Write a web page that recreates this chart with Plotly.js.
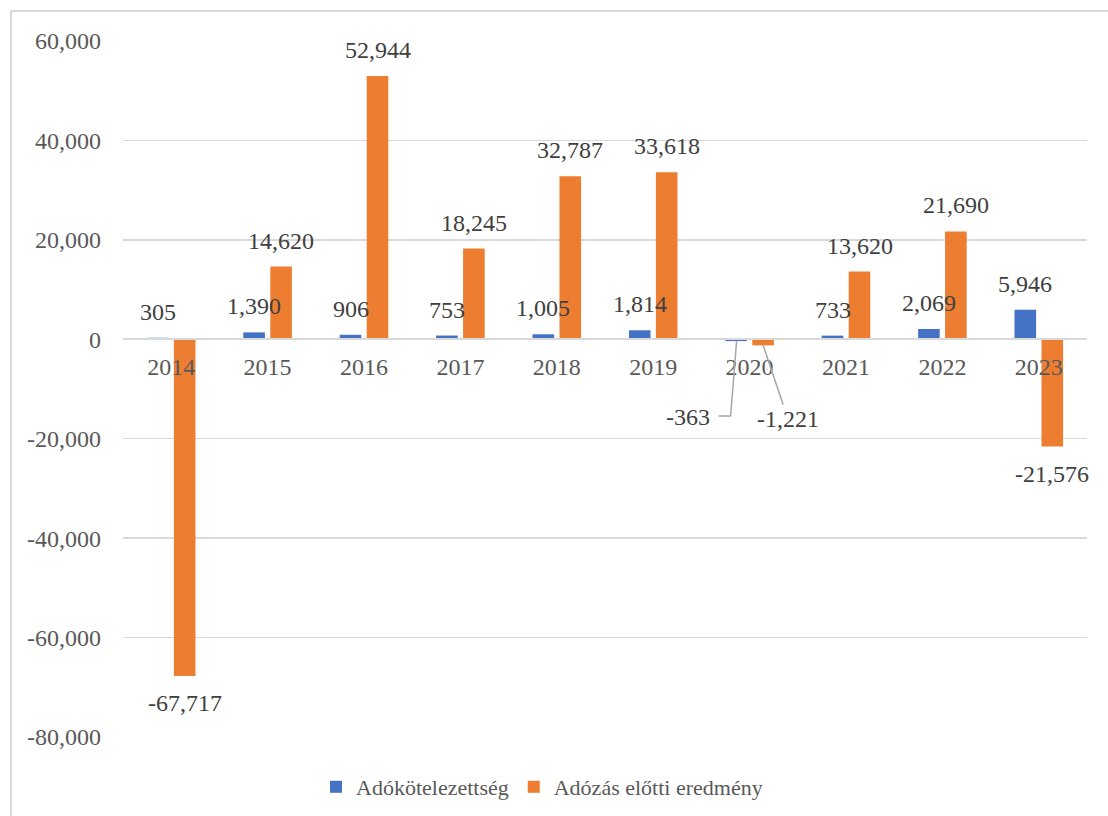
<!DOCTYPE html>
<html>
<head>
<meta charset="utf-8">
<script src="https://cdn.plot.ly/plotly-3.0.1.min.js"></script>
<style>
  html, body { margin: 0; padding: 0; background: #fff; }
  #wrap { position: relative; width: 1108px; height: 816px; overflow: hidden; }
  #frame { position: absolute; left: 10px; top: 10px; width: 1120px; height: 830px; border: 2px solid #d9d9d9; box-sizing: border-box; pointer-events: none; }
  #chart { position: absolute; left: 0; top: 0; width: 1108px; height: 816px; }
</style>
</head>
<body>
<div id="wrap">
  <div id="chart"></div>
  <div id="frame"></div>
</div>
<script>
const years = ['2014','2015','2016','2017','2018','2019','2020','2021','2022','2023'];
const adokotelezettseg = [305, 1390, 906, 753, 1005, 1814, -363, 733, 2069, 5946];
const adozasElottiEredmeny = [-67717, 14620, 52944, 18245, 32787, 33618, -1221, 13620, 21690, -21576];
const seriesNames = ['Adókötelezettség', 'Adózás előtti eredmény'];
const tickVals = [-80000, -60000, -40000, -20000, 0, 20000, 40000, 60000];

const BLUE = '#4472C4', ORANGE = '#ED7D31';
const SERIF = '"Liberation Serif", "Times New Roman", serif';
const fmt = v => (v < 0 ? '-' : '') + Math.abs(v).toLocaleString('en-US');

const traces = [
  { type: 'bar', name: seriesNames[0], x: years, y: adokotelezettseg, marker: { color: BLUE }, hoverinfo: 'none' },
  { type: 'bar', name: seriesNames[1], x: years, y: adozasElottiEredmeny, marker: { color: ORANGE }, hoverinfo: 'none' }
];

const annotations = [];
const SHIFT = 13.5;
[adokotelezettseg, adozasElottiEredmeny].forEach((vals, si) => {
  const xs = si === 0 ? -SHIFT : SHIFT;
  vals.forEach((v, i) => {
    if (years[i] === '2020') return;
    annotations.push({
      x: i, y: v, xref: 'x', yref: 'y', text: fmt(v), showarrow: false,
      xshift: xs, yshift: v >= 0 ? 26 : -27, yanchor: 'middle', xanchor: 'center',
      font: { family: SERIF, size: 24, color: '#404040' }
    });
  });
});
// 2020 labels with leader lines
const i20 = years.indexOf('2020');
annotations.push({
  x: i20, y: adokotelezettseg[i20], xref: 'x', yref: 'y', text: fmt(adokotelezettseg[i20]),
  xshift: -62, yshift: -76, showarrow: false, yanchor: 'middle', xanchor: 'center',
  font: { family: SERIF, size: 24, color: '#404040' }
});
annotations.push({
  x: i20, y: adozasElottiEredmeny[i20], xref: 'x', yref: 'y', text: fmt(adozasElottiEredmeny[i20]),
  xshift: SHIFT, showarrow: true, arrowhead: 0, arrowwidth: 1.5, arrowcolor: '#a6a6a6',
  ax: 25, ay: 74, standoff: 0, font: { family: SERIF, size: 24, color: '#404040' }
});
const shapes = [{
  type: 'path', xref: 'x', yref: 'y', xsizemode: 'pixel', ysizemode: 'pixel',
  xanchor: i20, yanchor: adokotelezettseg[i20],
  path: 'M -13,0 L -19,-75 L -31,-75',
  line: { color: '#a6a6a6', width: 1.5 }
}];

const yMin = -80000, yMax = 60000;
const layout = {
  width: 1108, height: 816,
  margin: { l: 123, r: 21, t: 41, b: 79 },
  paper_bgcolor: '#ffffff', plot_bgcolor: '#ffffff',
  barmode: 'group', bargap: 0.44, bargroupgap: 0.2,
  font: { family: SERIF, size: 24, color: '#595959' },
  showlegend: true,
  legend: {
    orientation: 'h', xref: 'container', yref: 'container',
    x: 0.5 - 12 / 1108, xanchor: 'center', y: 1 - 787 / 816, yanchor: 'middle',
    font: { family: SERIF, size: 22, color: '#595959' },
    itemclick: false
  },
  xaxis: {
    type: 'category', range: [-0.5, years.length - 0.5], autorange: false,
    anchor: 'free', position: (0 - yMin) / (yMax - yMin),
    showline: true, linecolor: '#d9d9d9', linewidth: 2,
    showgrid: false, ticks: '', ticklabelstandoff: 6,
    tickfont: { family: SERIF, size: 24, color: '#595959' },
    fixedrange: true
  },
  yaxis: {
    range: [yMin, yMax], autorange: false, tickvals: tickVals, ticktext: tickVals.map(fmt),
    showgrid: true, gridcolor: '#d9d9d9', gridwidth: 1.5,
    zeroline: false, showline: false, ticks: '', ticklabelstandoff: 21,
    tickfont: { family: SERIF, size: 24, color: '#595959' },
    fixedrange: true
  },
  shapes: shapes,
  annotations: annotations
};

Plotly.newPlot('chart', traces, layout, { displayModeBar: false, staticPlot: true });
</script>
</body>
</html>
